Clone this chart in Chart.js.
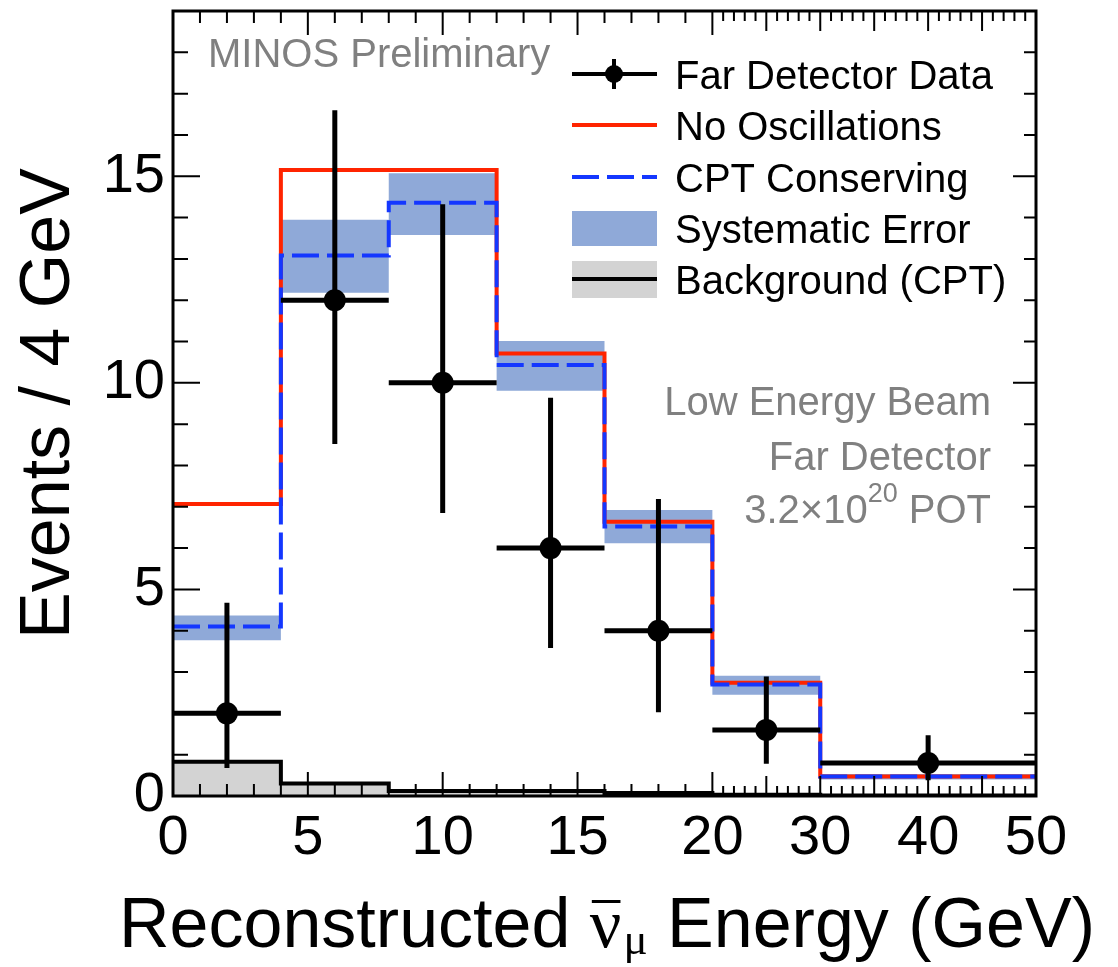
<!DOCTYPE html>
<html>
<head>
<meta charset="utf-8">
<script src="https://cdn.jsdelivr.net/npm/chart.js@4.4.1/dist/chart.umd.min.js"></script>
<style>
  html, body { margin: 0; padding: 0; background: #fff; }
</style>
</head>
<body>
<canvas id="mycanvas" width="1118" height="967"></canvas>
<script>
// bins in GeV, values are events / 4 GeV
var binEdges = [0, 4, 8, 12, 16, 20, 30, 50];
var noOscillations = [7.07, 15.15, 15.15, 10.71, 6.64, 2.74, 0.47];
var cptConserving = [4.10, 13.08, 14.36, 10.43, 6.52, 2.70, 0.47];
var systHigh = [4.37, 13.95, 15.07, 11.01, 6.92, 2.91, 0.53];
var systLow = [3.77, 12.18, 13.58, 9.81, 6.12, 2.45, 0.40];
var background = [0.83, 0.30, 0.12, 0.12, 0.07, 0.03, 0.01];

var dataX = [2, 6, 10, 14, 18, 25, 40];
var dataY = [2, 12, 10, 6, 4, 1.6, 0.8];
var dataErrLow = [0.68, 8.52, 6.85, 3.58, 2.03, 0.78, 0.38];
var dataErrHigh = [4.68, 16.60, 14.32, 9.64, 7.19, 2.89, 1.47];

var xTickLabels = [0, 5, 10, 15, 20, 30, 40, 50];
var yTickLabels = [0, 5, 10, 15];

var fontFamily = "'Liberation Sans', Arial, Helvetica, sans-serif";
var redColor = '#ff2400';
var blueColor = '#1437ff';
var bandColor = '#8fa9d8';
var bgFill = '#d3d3d3';
var noteColor = '#808080';

// axis is squeezed by 2.5 above 20 GeV
var xBreak = 20;
var xSqueeze = 2.5;
function toAxisUnit(v) { return v <= xBreak ? v : xBreak + (v - xBreak) / xSqueeze; }
function fromAxisUnit(u) { return u <= xBreak ? u : xBreak + (u - xBreak) * xSqueeze; }

class BrokenLinearScale extends Chart.LinearScale {
	getPixelForValue(value) {
		var a = toAxisUnit(this.min), b = toAxisUnit(this.max);
		return this.getPixelForDecimal((toAxisUnit(value) - a) / (b - a));
	}
	getValueForPixel(pixel) {
		var a = toAxisUnit(this.min), b = toAxisUnit(this.max);
		return fromAxisUnit(a + this.getDecimalForPixel(pixel) * (b - a));
	}
}
BrokenLinearScale.id = 'brokenLinear';
BrokenLinearScale.defaults = Chart.LinearScale.defaults;
Chart.register(BrokenLinearScale);

function stepPoints(values) {
	var pts = [];
	for (var i = 0; i < values.length; i++) {
		pts.push({x: binEdges[i], y: values[i]});
	}
	pts.push({x: binEdges[values.length], y: values[values.length - 1]});
	return pts;
}

var dataPoints = [];
var errXPoints = [];
var errYPoints = [];
for (var i = 0; i < dataX.length; i++) {
	dataPoints.push({x: dataX[i], y: dataY[i]});
	errYPoints.push({x: dataX[i], y: dataErrLow[i]}, {x: dataX[i], y: dataErrHigh[i]}, {x: dataX[i], y: null});
	errXPoints.push({x: binEdges[i], y: dataY[i]}, {x: binEdges[i + 1], y: dataY[i]}, {x: binEdges[i + 1], y: null});
}

var rootStyle = {
	id: 'rootStyle',
	afterDatasetsDraw: function(chart) {
		var ctx = chart.ctx, a = chart.chartArea;
		var xs = chart.scales.x, ys = chart.scales.y;
		ctx.save();
		ctx.strokeStyle = '#000';
		ctx.lineWidth = 2;
		ctx.beginPath();
		for (var v = 0; v <= 19; v++) {
			var py = ys.getPixelForValue(v);
			var major = v % 5 === 0;
			ctx.moveTo(a.left, py); ctx.lineTo(a.left + (major ? 27 : 15), py);
			ctx.moveTo(a.right, py); ctx.lineTo(a.right - (major ? 23 : 12), py);
		}
		for (var e = 0; e <= 50; e++) {
			var px = xs.getPixelForValue(e);
			var big = e % 5 === 0;
			var len = e <= xBreak ? (big ? 24 : 12) : (big ? 20 : 10);
			ctx.moveTo(px, a.bottom); ctx.lineTo(px, a.bottom - len);
			ctx.moveTo(px, a.top); ctx.lineTo(px, a.top + len);
		}
		ctx.stroke();
		ctx.lineWidth = 3;
		ctx.strokeRect(a.left, a.top, a.right - a.left, a.bottom - a.top);
		ctx.restore();
	},
	afterDraw: function(chart) {
		var ctx = chart.ctx;
		ctx.save();

		// x axis title
		var big = '70px ' + fontFamily;
		var greek = "70px 'Liberation Serif', 'DejaVu Serif', serif";
		var greekSub = "45px 'Liberation Serif', 'DejaVu Serif', serif";
		ctx.fillStyle = '#000';
		ctx.textBaseline = 'alphabetic';
		ctx.textAlign = 'left';
		ctx.font = big;
		var w1 = ctx.measureText('Reconstructed ').width;
		var w4 = ctx.measureText(' Energy (GeV)').width;
		ctx.font = greek;
		var w2 = ctx.measureText('ν').width;
		ctx.font = greekSub;
		var w3 = ctx.measureText('μ').width;
		var x0 = 606 - (w1 + w2 + w3 + w4) / 2;
		var base = 947;
		ctx.font = big;
		ctx.fillText('Reconstructed ', x0, base);
		ctx.font = greek;
		ctx.fillText('ν', x0 + w1, base);
		ctx.fillRect(x0 + w1 + 2, base - 47, w2 - 3, 3);
		ctx.font = greekSub;
		ctx.fillText('μ', x0 + w1 + w2 + 2, base + 7);
		ctx.font = big;
		ctx.fillText(' Energy (GeV)', x0 + w1 + w2 + w3 + 2, base);

		// notes
		ctx.font = '40px ' + fontFamily;
		ctx.fillStyle = noteColor;
		ctx.fillText('MINOS Preliminary', 208, 67);
		ctx.textAlign = 'right';
		ctx.fillText('Low Energy Beam', 991, 415);
		ctx.fillText('Far Detector', 991, 470);
		ctx.textAlign = 'left';
		var p1 = ctx.measureText('3.2×10').width;
		var p3 = ctx.measureText(' POT').width;
		ctx.font = '27px ' + fontFamily;
		var p2 = ctx.measureText('20').width;
		var sx = 991 - (p1 + p2 + p3);
		ctx.font = '40px ' + fontFamily;
		ctx.fillText('3.2×10', sx, 523);
		ctx.fillText(' POT', sx + p1 + p2, 523);
		ctx.font = '27px ' + fontFamily;
		ctx.fillText('20', sx + p1, 502);

		// legend
		var ds = chart.data.datasets;
		var rows = [74, 125, 177, 228, 279];
		var lx0 = 572, lx1 = 657, tx = 675;
		ctx.lineCap = 'butt';
		ctx.strokeStyle = '#000';
		ctx.lineWidth = 4;
		ctx.beginPath();
		ctx.moveTo(lx0, rows[0]); ctx.lineTo(lx1, rows[0]);
		ctx.moveTo(614, rows[0] - 15); ctx.lineTo(614, rows[0] + 15);
		ctx.stroke();
		ctx.fillStyle = '#000';
		ctx.beginPath(); ctx.arc(614, rows[0], 9, 0, Math.PI * 2); ctx.fill();
		ctx.strokeStyle = ds[4].borderColor;
		ctx.beginPath(); ctx.moveTo(lx0, rows[1]); ctx.lineTo(lx1, rows[1]); ctx.stroke();
		ctx.strokeStyle = ds[3].borderColor;
		ctx.setLineDash(ds[3].borderDash);
		ctx.beginPath(); ctx.moveTo(lx0, rows[2]); ctx.lineTo(lx1, rows[2]); ctx.stroke();
		ctx.setLineDash([]);
		ctx.fillStyle = ds[6].backgroundColor;
		ctx.fillRect(lx0, rows[3] - 17, lx1 - lx0, 35);
		ctx.fillStyle = ds[5].backgroundColor;
		ctx.fillRect(lx0, rows[4] - 18, lx1 - lx0, 37);
		ctx.strokeStyle = '#000';
		ctx.beginPath(); ctx.moveTo(lx0, rows[4]); ctx.lineTo(lx1, rows[4]); ctx.stroke();

		ctx.fillStyle = '#000';
		ctx.font = '40px ' + fontFamily;
		var names = ['Far Detector Data', 'No Oscillations', 'CPT Conserving', 'Systematic Error', 'Background (CPT)'];
		for (var r = 0; r < rows.length; r++) {
			ctx.fillText(names[r], tx, rows[r] + 15);
		}
		ctx.restore();
	}
};

var ctx = document.getElementById('mycanvas');

var new_chart = new Chart(ctx, {
	type: 'line',
	data: {
		datasets: [
			{
				label: 'Far Detector Data',
				data: dataPoints,
				showLine: false,
				pointRadius: 11,
				pointBackgroundColor: '#000',
				pointBorderWidth: 0,
				order: 1
			},
			{
				label: 'errX',
				data: errXPoints,
				borderColor: '#000',
				borderWidth: 5,
				pointRadius: 0,
				order: 2
			},
			{
				label: 'errY',
				data: errYPoints,
				borderColor: '#000',
				borderWidth: 5,
				pointRadius: 0,
				order: 2
			},
			{
				label: 'CPT Conserving',
				data: stepPoints(cptConserving),
				stepped: true,
				borderColor: blueColor,
				borderWidth: 4,
				borderDash: [27, 8],
				pointRadius: 0,
				fill: false,
				order: 3
			},
			{
				label: 'No Oscillations',
				data: stepPoints(noOscillations),
				stepped: true,
				borderColor: redColor,
				borderWidth: 4,
				pointRadius: 0,
				fill: false,
				order: 4
			},
			{
				label: 'Background (CPT)',
				data: stepPoints(background),
				stepped: true,
				borderColor: '#000',
				borderWidth: 4,
				backgroundColor: bgFill,
				pointRadius: 0,
				fill: 'origin',
				order: 5
			},
			{
				label: 'Systematic Error',
				data: stepPoints(systHigh),
				stepped: true,
				borderColor: 'transparent',
				borderWidth: 0,
				backgroundColor: bandColor,
				pointRadius: 0,
				fill: '+1',
				order: 6
			},
			{
				label: 'syst low',
				data: stepPoints(systLow),
				stepped: true,
				borderColor: 'transparent',
				borderWidth: 0,
				pointRadius: 0,
				fill: false,
				order: 6
			}
		]
	},
	options: {
		responsive: false,
		animation: false,
		devicePixelRatio: 1,
		layout: { padding: { top: 8, right: 82, left: 0, bottom: 0 } },
		plugins: {
			legend: { display: false },
			tooltip: { enabled: false }
		},
		scales: {
			x: {
				type: 'brokenLinear',
				min: 0,
				max: 50,
				grid: { display: false, drawTicks: false },
				border: { display: false },
				afterBuildTicks: function(scale) {
					scale.ticks = xTickLabels.map(function(v) { return {value: v}; });
				},
				afterFit: function(scale) {
					scale.height = 171;
					scale.paddingLeft = 0;
					scale.paddingRight = 0;
				},
				ticks: {
					autoSkip: false,
					maxRotation: 0,
					padding: 9,
					color: '#000',
					font: { family: fontFamily, size: 56 },
					callback: function(v) { return String(v); }
				}
			},
			y: {
				min: 0,
				max: 19,
				grid: { display: false, drawTicks: false },
				border: { display: false },
				afterBuildTicks: function(scale) {
					scale.ticks = yTickLabels.map(function(v) { return {value: v}; });
				},
				afterFit: function(scale) {
					scale.width = 173;
					scale.paddingTop = 0;
					scale.paddingBottom = 0;
				},
				ticks: {
					padding: 8,
					color: '#000',
					font: { family: fontFamily, size: 56 },
					callback: function(v) { return String(v); }
				},
				title: {
					display: true,
					text: 'Events / 4 GeV',
					color: '#000',
					font: { family: fontFamily, size: 70 },
					padding: { top: 8, bottom: 0 }
				}
			}
		}
	},
	plugins: [rootStyle]
});
</script>
</body>
</html>
